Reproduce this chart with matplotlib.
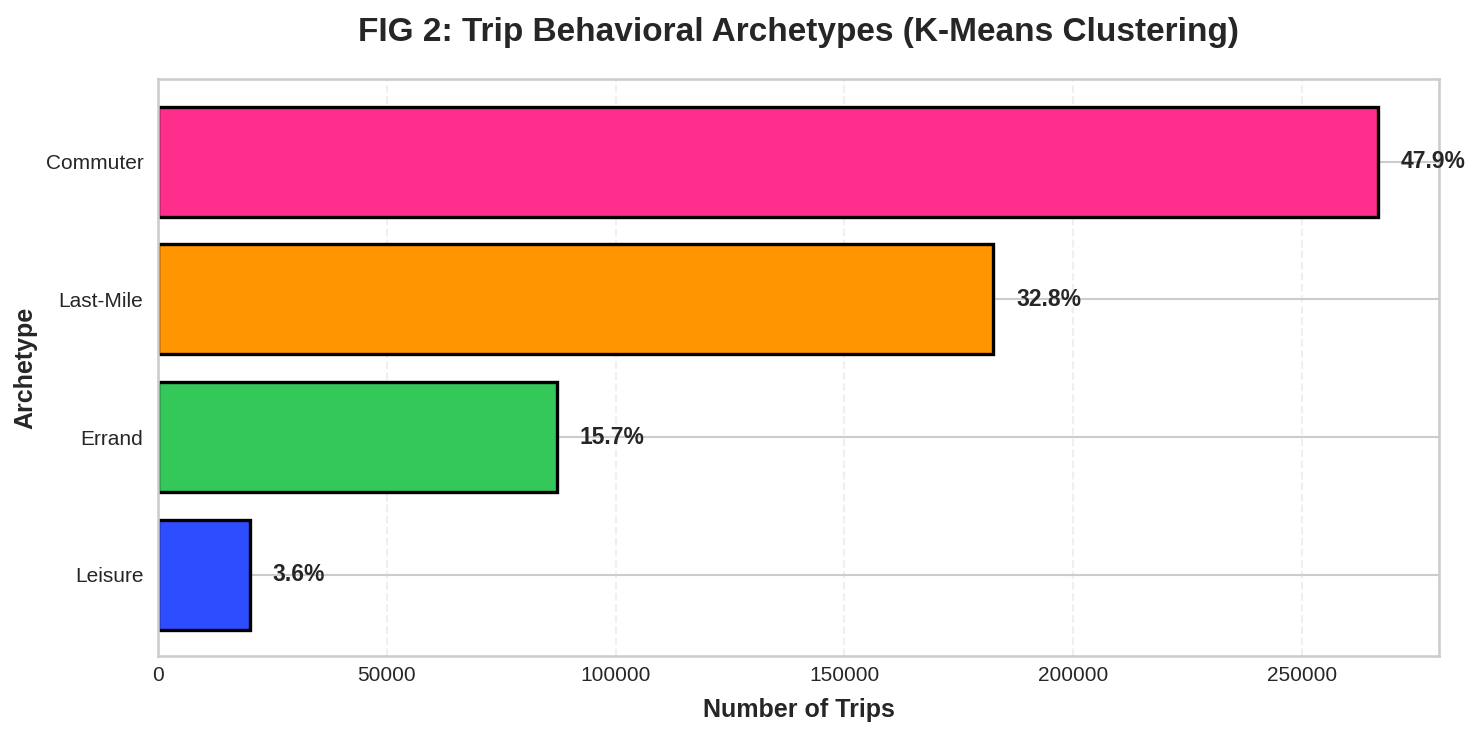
import matplotlib
matplotlib.use("Agg")
import matplotlib.pyplot as plt
import seaborn as sns

sns.set_theme(style="whitegrid")
plt.rcParams['font.family'] = ['Liberation Sans', 'DejaVu Sans']

archetypes = ["Leisure", "Errand", "Last-Mile", "Commuter"]
trips = [20100, 87100, 182500, 266600]
colors = ["#2E4DFF", "#34C759", "#FF9500", "#FF2D8C"]

total = sum(trips)
fig = plt.figure(figsize=(1481/150, 736/150), dpi=150)
ax = fig.add_axes([158/1481, 1-656/736, (1439-158)/1481, (656-79)/736])

bars = ax.barh(archetypes, trips, color=colors, edgecolor="black", linewidth=1.6, height=0.8)
ax.set_xlim(0, max(trips)*1.05)
ax.set_ylim(-0.59, 3.6)
for b, v in zip(bars, trips):
    ax.text(v + 5000, b.get_y()+b.get_height()/2, f"{v/total*100:.1f}%",
            va="center", ha="left", fontsize=11, fontweight="bold", color="#262626")

ax.grid(axis="x", linestyle="--", alpha=0.3)
ax.grid(axis="y", linestyle="-")
ax.set_axisbelow(True)
ax.tick_params(axis="both", labelsize=10, colors="#262626", length=0)
ax.tick_params(axis="y", pad=7)
ax.tick_params(axis="x", pad=5)
ax.set_xlabel("Number of Trips", fontsize=12, fontweight="bold", color="#262626", labelpad=6)
ax.set_ylabel("Archetype", fontsize=12, fontweight="bold", color="#262626")
ax.set_title("FIG 2: Trip Behavioral Archetypes (K-Means Clustering)", fontsize=16,
             fontweight="bold", pad=18, color="#262626")

fig.savefig("out.png", dpi=150)
